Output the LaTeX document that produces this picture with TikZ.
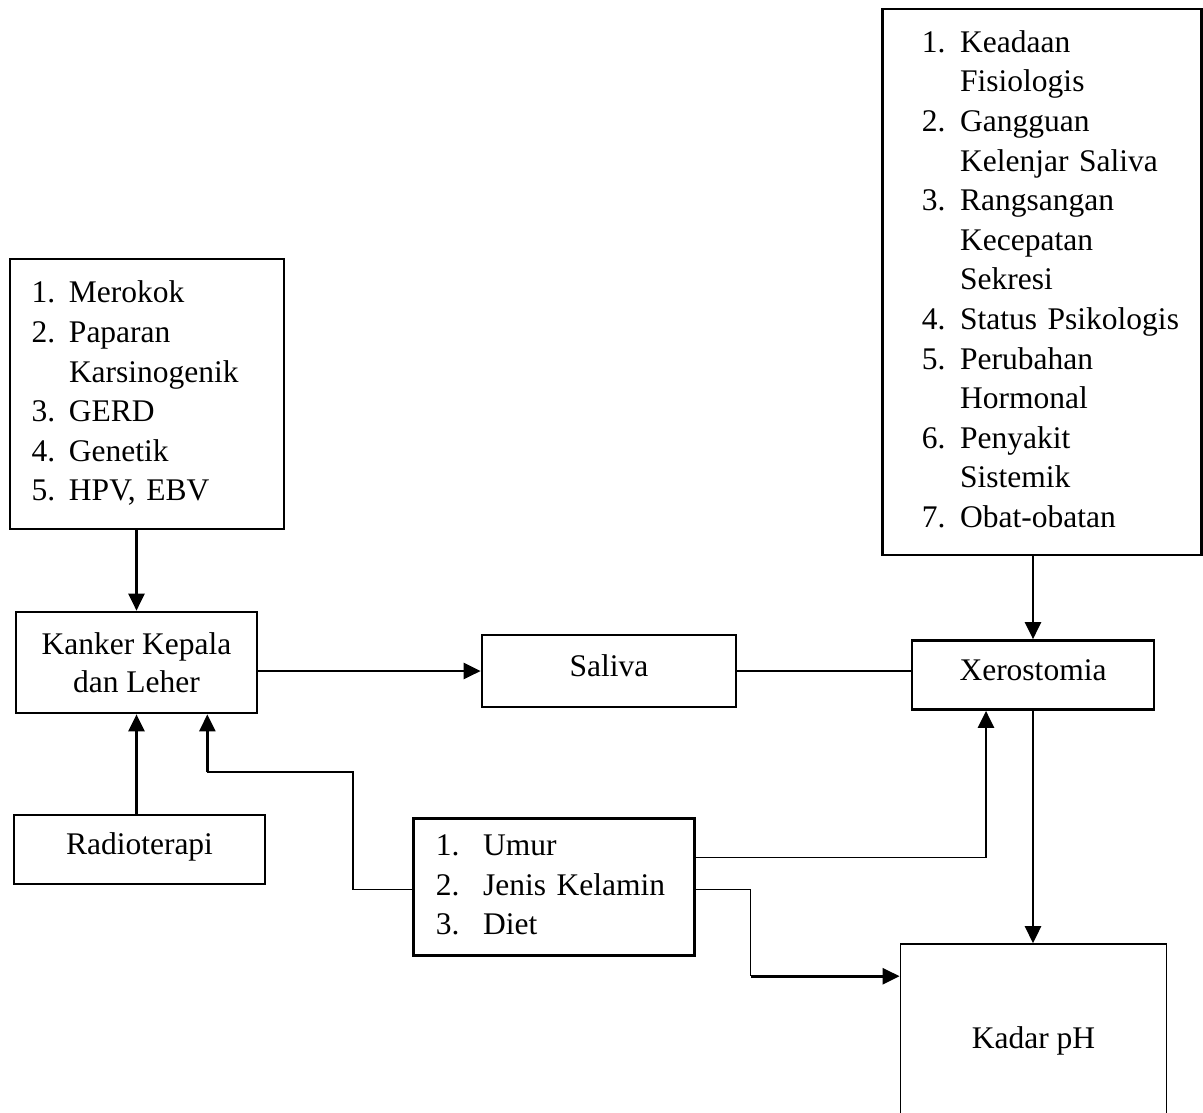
\documentclass[tikz,border=0pt]{standalone}
\usepackage{fontspec}
\setmainfont{Liberation Serif}
\usetikzlibrary{arrows.meta,positioning,calc}

\newlength{\padkiri}
\newlength{\lebarno}
\newcommand{\butir}[1]{\strut\hspace*{\padkiri}\makebox[\lebarno][l]{#1}}

\begin{document}
\begin{tikzpicture}[
    x=1pt, y=-1pt,
    kotak/.style={draw, line width=2.7pt, inner sep=0pt, align=center,
                  font=\fontsize{31.5}{38.3}\selectfont},
    satubaris/.style={kotak, text height=20pt, text depth=10pt},
    daftar/.style n args={3}{kotak, align=left, text width=#1, minimum width=#1,
                  font=\fontsize{31.5}{39.6}\selectfont,
                  execute at begin node={\setlength{\padkiri}{#2}\setlength{\lebarno}{#3}}},
    panah/.style={line width=2.6pt, -{Triangle[length=17pt,width=16pt]}},
    garis/.style={line width=1.3pt}
]
\useasboundingbox (0,0) rectangle (1203,1112);
\clip (0,0) rectangle (1203,1112);
\fill[white] (0,0) rectangle (1203,1112);

% kotak-kotak
\node[daftar={274pt}{21.7pt}{37.3pt}, minimum height=270pt] (faktor) at (147,394)
    {\butir{1.}Merokok\\ \butir{2.}Paparan\\ \butir{}Karsinogenik\\
     \butir{3.}GERD\\ \butir{4.}Genetik\\ \butir{5.}HPV, EBV};
\node[daftar={319pt}{39.4pt}{38.3pt}, minimum height=546pt] (pengaruh) at (1042,282)
    {\butir{1.}Keadaan\\ \butir{}Fisiologis\\ \butir{2.}Gangguan\\ \butir{}Kelenjar Saliva\\
     \butir{3.}Rangsangan\\ \butir{}Kecepatan\\ \butir{}Sekresi\\ \butir{4.}Status Psikologis\\
     \butir{5.}Perubahan\\ \butir{}Hormonal\\ \butir{6.}Penyakit\\ \butir{}Sistemik\\
     \butir{7.}Obat-obatan};
\node[kotak, minimum width=241pt, minimum height=101pt] (kanker) at (136.5,662.5) {Kanker Kepala\\dan Leher};
\node[satubaris, minimum width=251pt, minimum height=69pt] (radio) at (139.5,849.5) {Radioterapi};
\node[satubaris, minimum width=254pt, minimum height=72pt] (saliva) at (609,671) {Saliva};
\node[satubaris, minimum width=242pt, minimum height=69pt] (xero) at (1033,675) {Xerostomia};
\node[daftar={281pt}{22.7pt}{47.3pt}, minimum height=137pt] (umur) at (553.7,887.3)
    {\butir{1.}Umur\\ \butir{2.}Jenis Kelamin\\ \butir{3.}Diet};
\node[satubaris, line width=1.8pt, minimum width=266pt, minimum height=199pt] (kadar) at (1033.5,1043.6) {Kadar pH};

% panah
\draw[panah] (kanker.north |- faktor.south) -- (kanker.north);
\draw[panah] (kanker.south |- radio.north) -- (kanker.south);
\draw[panah] (kanker.east |- saliva.west) -- (saliva.west);
\draw[garis, line width=1.6pt] (saliva.east) -- (saliva.east -| xero.west);
\draw[panah] (xero.north |- pengaruh.south) -- (xero.north);
\draw[panah] (xero.south) -- (xero.south |- kadar.north);

% umur ke xerostomia
\coordinate (ua) at ([yshift=29.6pt]umur.east);
\coordinate (xa) at ([xshift=-47pt]xero.south);
\draw[garis] (ua) -- (ua -| xa);
\draw[panah] (ua -| xa) -- (xa);

% umur ke kadar pH
\coordinate (ub) at ([yshift=-2.4pt]umur.east);
\coordinate (tb) at ([xshift=55pt]ub);
\coordinate (kb) at ([yshift=-33pt]kadar.north west);
\draw[garis] (ub) -- (tb) -- (tb |- kb);
\draw[panah] (tb |- kb) -- (kb);

% umur ke kanker
\coordinate (uc) at ([yshift=-2pt]umur.west);
\coordinate (tc) at ([xshift=-59pt]uc);
\coordinate (ka) at ([xshift=-51pt]kanker.south east);
\coordinate (kc) at ([yshift=-57.7pt]ka);
\draw[garis] (uc) -- (tc) |- (kc);
\draw[panah] (kc) -- (ka);
\end{tikzpicture}
\end{document}
